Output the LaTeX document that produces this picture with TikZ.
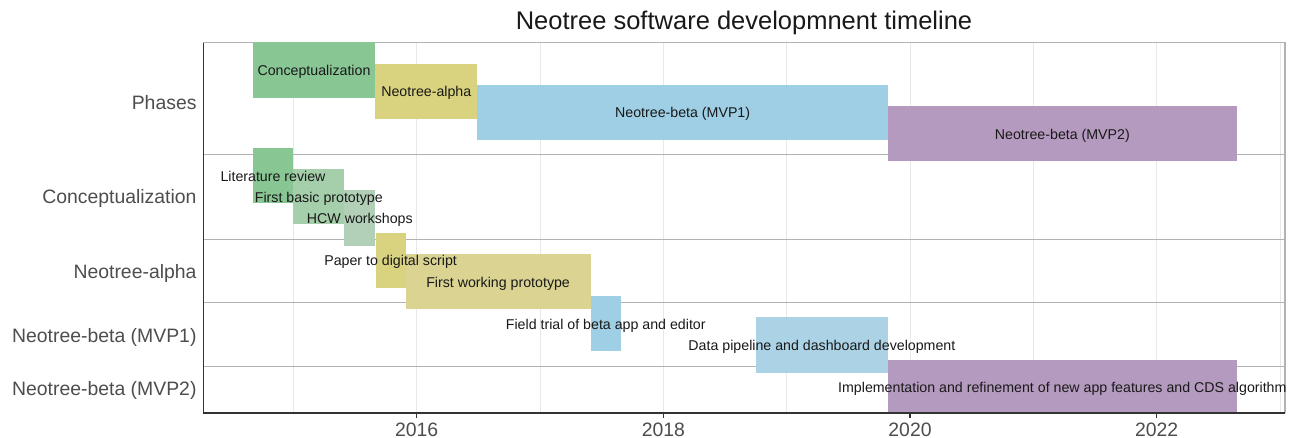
\documentclass[tikz,border=0pt]{standalone}
\usepackage{fontspec}
\setmainfont{Liberation Sans}
\definecolor{concgreen}{HTML}{88C694}
\definecolor{basicgreen}{HTML}{A5CEAA}
\definecolor{hcwgreen}{HTML}{B2D0B7}
\definecolor{alphayellow}{HTML}{D9D27E}
\definecolor{workyellow}{HTML}{DAD391}
\definecolor{betablue}{HTML}{9ECFE4}
\definecolor{pipeblue}{HTML}{ABD3E5}
\definecolor{mvppurple}{HTML}{B59ABF}
\definecolor{axisgray}{HTML}{4D4D4D}

\begin{document}
\begin{tikzpicture}[x=1pt, y=-1pt, text=black!90]
    \tikzstyle{every node}=[inner sep=0pt];
    \tikzstyle{bar label}=[anchor=base, yshift=-5.6pt, font=\fontsize{14.2}{14.2}\selectfont];
    \tikzstyle{facet label}=[anchor=base east, text=axisgray, font=\fontsize{19.4}{19.4}\selectfont];
    \tikzstyle{tick label}=[anchor=base, text=axisgray, font=\fontsize{19.4}{19.4}\selectfont];
    \tikzstyle{gridline}=[draw=black!9, line width=0.9pt];
    \tikzstyle{facetline}=[draw=black!30, line width=1.2pt];
    \tikzstyle{axisline}=[draw=black!80, line width=1.2pt];

    \useasboundingbox (0,0) rectangle (1290,438);

    \node at (744, 29.5) (title) [anchor=base, font=\fontsize{25.5}{25.5}\selectfont] {Neotree software developmnent timeline};

    \foreach \yr in {2015,...,2023}
        \draw[gridline] ({416.7+(\yr-2016)*123.33}, 42.7) -- ({416.7+(\yr-2016)*123.33}, 413);
    \foreach \yy in {154.6, 239.2, 302.65, 366.1}
        \draw[facetline] (203.3, \yy) -- (1285, \yy);
    \draw[facetline] (203.3, 42.7) -- (1285, 42.7) -- (1285, 413);

    \begin{scope}
        \clip (203.3, 42.7) rectangle (1285, 413);
        \fill[concgreen]   (252.7,  42.4)  rectangle (375.3,  97.6);
        \fill[alphayellow] (375.3,  63.55) rectangle (477.3,  118.75);
        \fill[betablue]    (477.3,  84.7)  rectangle (888.0,  139.9);
        \fill[mvppurple]   (888.0,  105.85) rectangle (1236.7, 161.05);
        \fill[concgreen]   (252.7,  148.15) rectangle (293.3,  203.35);
        \fill[basicgreen]  (293.3,  169.3) rectangle (344.3,  224.5);
        \fill[hcwgreen]    (344.3,  190.45) rectangle (375.3,  245.65);
        \fill[alphayellow] (375.5,  232.75) rectangle (405.7,  287.95);
        \fill[workyellow]  (405.7,  253.9) rectangle (590.5,  309.1);
        \fill[betablue]    (590.5,  296.2) rectangle (621.0,  351.4);
        \fill[pipeblue]    (755.8,  317.35) rectangle (888.0,  372.55);
        \fill[mvppurple]   (888.0,  359.65) rectangle (1236.7, 414.85);
    \end{scope}

    \draw[axisline] (203.3, 42.7) -- (203.3, 413) -- (1285, 413);
    \foreach \yr in {2016, 2018, 2020, 2022} {
        \draw[axisline] ({416.7+(\yr-2016)*123.33}, 413) -- ({416.7+(\yr-2016)*123.33}, 417.5);
        \node at ({416.7+(\yr-2016)*123.33}, 436) (tick\yr) [tick label] {\yr};
    }

    \node at (314.0,  70.0)   (conc)   [bar label] {Conceptualization};
    \node at (426.3,  91.15)  (alpha)  [bar label] {Neotree-alpha};
    \node at (682.65, 112.3)  (mvp1)   [bar label] {Neotree-beta (MVP1)};
    \node at (1062.35, 133.45) (mvp2)  [bar label] {Neotree-beta (MVP2)};
    \node at (273.0,  175.75) (litrev) [bar label] {Literature review};
    \node at (318.8,  196.9)  (basic)  [bar label] {First basic prototype};
    \node at (359.8,  218.05) (hcw)    [bar label] {HCW workshops};
    \node at (390.6,  260.35) (paper)  [bar label] {Paper to digital script};
    \node at (498.1,  281.5)  (work)   [bar label] {First working prototype};
    \node at (605.75, 323.8)  (field)  [bar label] {Field trial of beta app and editor};
    \node at (821.9,  344.95) (pipe)   [bar label] {Data pipeline and dashboard development};
    \node at (1062.35, 387.25) (impl)  [bar label] {Implementation and refinement of new app features and CDS algorithm};

    \node at (196.7, 109.3) (fphases) [facet label] {Phases};
    \node at (196.7, 204.0) (fconc)   [facet label] {Conceptualization};
    \node at (196.7, 278.7) (falpha)  [facet label] {Neotree-alpha};
    \node at (196.7, 342.3) (fmvp1)   [facet label] {Neotree-beta (MVP1)};
    \node at (196.7, 395.0) (fmvp2)   [facet label] {Neotree-beta (MVP2)};
\end{tikzpicture}
\end{document}
